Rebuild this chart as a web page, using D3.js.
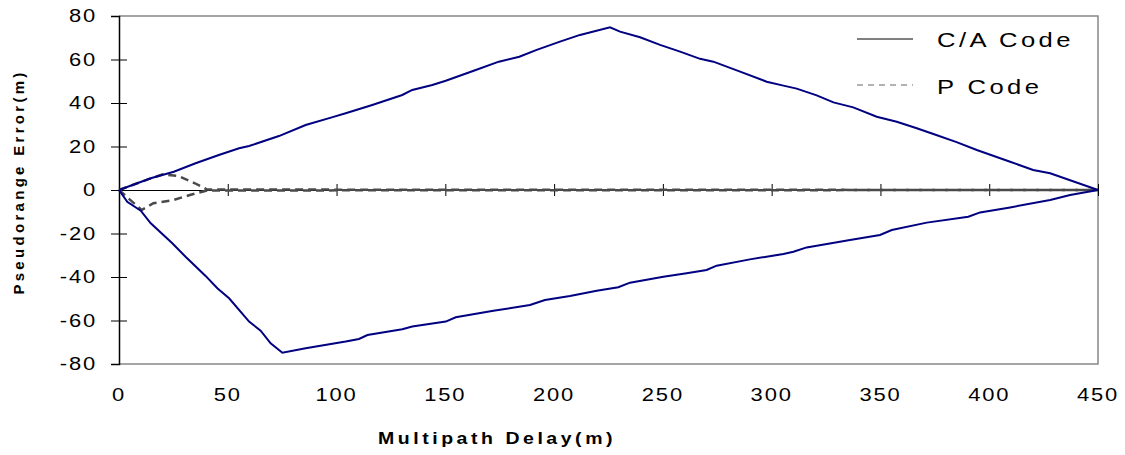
<!DOCTYPE html>
<html>
<head>
<meta charset="utf-8">
<script src="https://cdn.jsdelivr.net/npm/d3@7"></script>
<style>
  body { margin: 0; background: #fff; }
  text { font-family: "Liberation Sans", Arial, sans-serif; fill: #000; }
</style>
</head>
<body>
<div id="chart"></div>
<script>
const width = 1125;
const height = 455;

// C/A code multipath error envelope (delay in m, error in m)
const caUpperDelay = [0, 14.6, 25.2, 35.2, 45.9, 55.2, 59.8, 73.5, 85.8, 97.8, 104.2, 116.4, 130.2, 134.8, 144, 150.2, 164, 174.6, 184, 192, 202.7, 211.9, 225.7, 230.3, 239.5, 248.7, 257.9, 267.1, 273.2, 285.5, 297.7, 305.4, 311.5, 320.7, 328.4, 337.5, 348.3, 357.5, 366.7, 375, 385, 394.3, 409.6, 420.2, 428, 450];
const caUpperErr = [0, 5.4, 8.4, 12.3, 16.1, 19.2, 20.2, 24.8, 29.9, 33.4, 35.3, 39.1, 43.7, 46, 48.3, 50.2, 55.2, 59, 61.3, 64.4, 68.2, 71.3, 74.8, 72.8, 70.2, 66.7, 63.6, 60.3, 59, 54.4, 49.8, 48, 46.6, 43.5, 40.3, 38, 33.7, 31.4, 28.4, 25.5, 22, 18.4, 13, 9.2, 7.7, 0];
const caLowerDelay = [0, 3.8, 10, 14.6, 24.5, 30.6, 39.8, 45.2, 50.6, 59.8, 65.1, 69.7, 75.1, 85.8, 104.2, 110.3, 114.2, 130.2, 134.8, 150.2, 154.8, 172.1, 188.9, 195.8, 207.3, 219.6, 229.5, 234.9, 250.2, 260.9, 270.1, 274.7, 290, 305.4, 310, 316.1, 336, 349.8, 355.2, 371.3, 390.4, 395.8, 409.6, 428, 437.2, 450];
const caLowerErr = [0, -5.4, -9.5, -15.3, -24.5, -30.7, -39.5, -45.2, -49.8, -60.5, -64.7, -70.5, -74.8, -72.8, -69.7, -68.5, -66.7, -64, -62.8, -60.5, -58.5, -55.5, -52.9, -50.6, -48.7, -46.3, -44.7, -42.6, -39.9, -38.3, -36.8, -34.8, -31.9, -29.4, -28.4, -26.4, -23, -20.7, -18.4, -15, -12.3, -10.3, -8, -4.6, -2.3, 0];

// P code envelope
const pUpperDelay = [0, 14.2, 20.2, 27.3, 34.9, 40.5, 450];
const pUpperErr = [0, 5.2, 7.2, 6.4, 3.1, 0.2, 0];
const pLowerDelay = [0, 10.4, 15.8, 25, 32.6, 40.5, 450];
const pLowerErr = [0, -9.2, -6.1, -4.6, -2.3, -0.2, 0];

const xTicks = [0, 50, 100, 150, 200, 250, 300, 350, 400, 450];
const yTicks = [-80, -60, -40, -20, 0, 20, 40, 60, 80];

const svg = d3.select("#chart")
  .append("svg")
  .attr("width", width)
  .attr("height", height);

const x = d3.scaleLinear().domain([0, 450]).range([119, 1098]);
const y = d3.scaleLinear().domain([-80, 80]).range([364, 16]);

// stretched text like the original export
function label(g, tx, ty, str, opts) {
  opts = opts || {};
  return g.append("text")
    .attr("transform", `translate(${tx},${ty})${opts.rotate ? " rotate(" + opts.rotate + ")" : ""} scale(${opts.sx || 1.22},1)`)
    .attr("text-anchor", opts.anchor || "middle")
    .attr("dy", opts.dy || 0)
    .style("font-size", (opts.size || 18) + "px")
    .style("font-weight", opts.bold ? "bold" : "normal")
    .style("letter-spacing", (opts.ls || 0) + "px")
    .text(str);
}

// Plot frame (grey top, right, bottom)
svg.append("path")
  .attr("d", `M${x(0)},${y(80)}H${x(450)}V${y(-80)}H${x(0)}`)
  .attr("fill", "none")
  .attr("stroke", "#888")
  .attr("stroke-width", 1.5);

// Y axis
const yAxis = svg.append("g")
  .attr("transform", `translate(${x(0)},0)`)
  .call(d3.axisLeft(y).tickValues(yTicks).tickSize(8).tickFormat(""));
yAxis.select(".domain").attr("stroke", "#000").attr("stroke-width", 1.5);
yAxis.selectAll(".tick line").attr("x1", -8).attr("x2", d => (d === 80 || d === -80) ? 0 : 8).attr("stroke", "#000");

yTicks.forEach(v => label(svg, 97, y(v), v, { anchor: "end", dy: "0.36em", ls: 1.5 }));

// X axis on the zero line
const xAxis = svg.append("g")
  .attr("transform", `translate(0,${y(0)})`)
  .call(d3.axisBottom(x).tickValues(xTicks).tickSize(6).tickFormat(""));
xAxis.select(".domain").attr("stroke", "#000").attr("stroke-width", 1);
xAxis.selectAll(".tick line").attr("y1", -6).attr("y2", 6).attr("stroke", "#000");

xTicks.forEach(v => label(svg, x(v), 401, v, { ls: 1.5 }));

// Axis titles
label(svg, 497, 444, "Multipath Delay(m)", { bold: true, size: 16, ls: 2.9 });
label(svg, 24, 182, "Pseudorange Error(m)", { bold: true, size: 15, ls: 3.3, rotate: -90, sx: 1 });

const line = d3.line()
  .x(d => x(d[0]))
  .y(d => y(d[1]));

const zip = (a, b) => a.map((v, i) => [v, b[i]]);

// P code (dashed)
[zip(pUpperDelay, pUpperErr), zip(pLowerDelay, pLowerErr)].forEach(pts => {
  svg.append("path")
    .datum(pts)
    .attr("d", line)
    .attr("fill", "none")
    .attr("stroke", "#4a4a4a")
    .attr("stroke-width", 2.5)
    .attr("stroke-dasharray", "8,5");
});

// C/A code (solid)
[zip(caUpperDelay, caUpperErr), zip(caLowerDelay, caLowerErr)].forEach(pts => {
  svg.append("path")
    .datum(pts)
    .attr("d", line)
    .attr("fill", "none")
    .attr("stroke", "#000080")
    .attr("stroke-width", 2);
});

// Legend
const legend = svg.append("g");
legend.append("line")
  .attr("x1", 857).attr("x2", 913).attr("y1", 39).attr("y2", 39)
  .attr("stroke", "#000").attr("stroke-width", 1);
label(legend, 937, 47, "C/A Code", { anchor: "start", size: 21, ls: 2.8 });
legend.append("line")
  .attr("x1", 857).attr("x2", 913).attr("y1", 85).attr("y2", 85)
  .attr("stroke", "#666").attr("stroke-width", 1)
  .attr("stroke-dasharray", "6,5");
label(legend, 937, 94, "P Code", { anchor: "start", size: 21, ls: 2.8 });
</script>
</body>
</html>
